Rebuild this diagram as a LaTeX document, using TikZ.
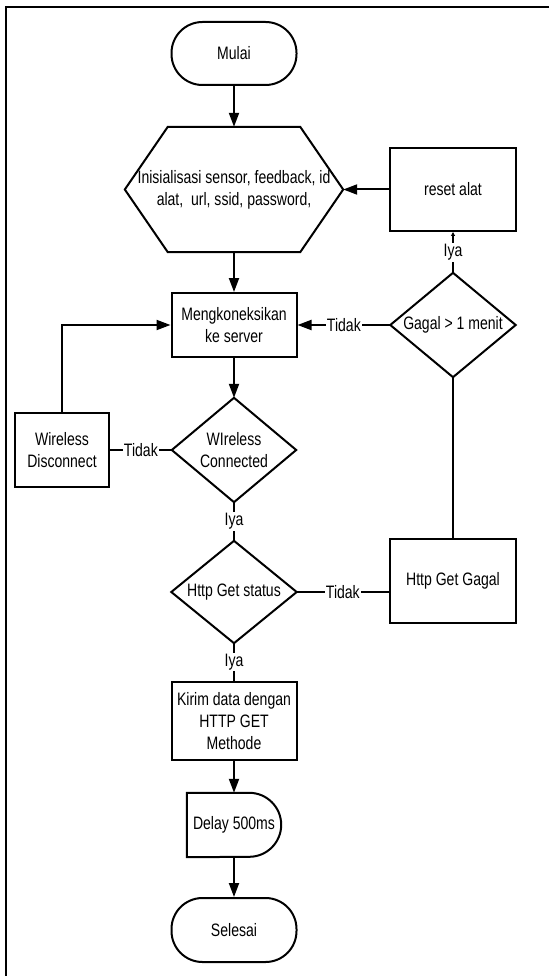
\documentclass[tikz,border=0pt]{standalone}
\usepackage{fontspec}
\setmainfont{Liberation Sans}[FakeStretch=0.78]
\usetikzlibrary{arrows.meta}

\begin{document}
\begin{tikzpicture}[x=1pt,y=-1pt,
  every node/.style={font=\fontsize{18}{22}\selectfont, align=center, inner sep=0pt},
  ln/.style={line width=2pt, line join=miter},
  arr/.style={ln, -{Triangle[length=14pt,width=10pt]}},
  arrsmall/.style={ln, -{Triangle[length=4pt,width=4pt]}},
  box/.style={draw, line width=2pt, rectangle, minimum width=#1},
  term/.style={draw, line width=2pt, rectangle, rounded corners=31pt,
               minimum width=125pt, minimum height=63pt},
  shapeonly/.style={rectangle, minimum width=#1},
  lbl/.style={fill=white, inner sep=1.2pt}
]
\useasboundingbox (0,0) rectangle (549,976);

% outer frame (top and left edges)
\draw[line width=2.6pt] (549,7) -- (6,7) -- (6,976);

% ---------- nodes ----------
\node[term] (start) at (234,53.5) {Mulai};

\node[shapeonly=218pt, minimum height=125pt] (init) at (234,189.5)
  {Inisialisasi sensor, feedback, id\\alat,\ \ url, ssid, password,};
\draw[ln] (init.west) -- ([xshift=43pt]init.north west) -- ([xshift=-43pt]init.north east)
  -- (init.east) -- ([xshift=-43pt]init.south east) -- ([xshift=43pt]init.south west) -- cycle;

\node[box=126pt, minimum height=83pt] (reset) at (453,189.5) {reset alat};

\node[box=125pt, minimum height=64pt] (conn) at (234,325) {Mengkoneksikan\\ke server};

\node[shapeonly=125pt, minimum height=104pt] (gagal) at (453,325) {Gagal > 1 menit};
\draw[ln] (gagal.north) -- (gagal.east) -- (gagal.south) -- (gagal.west) -- cycle;

\node[box=94pt, minimum height=74pt] (wd) at (62,450) {Wireless\\Disconnect};

\node[shapeonly=124pt, minimum height=104pt] (wc) at (234,450) {WIreless\\Connected};
\draw[ln] (wc.north) -- (wc.east) -- (wc.south) -- (wc.west) -- cycle;

\node[shapeonly=125pt, minimum height=102pt] (hgs) at (234,592) {Http Get status};
\draw[ln] (hgs.north) -- (hgs.east) -- (hgs.south) -- (hgs.west) -- cycle;

\node[box=126pt, minimum height=84pt] (hgg) at (453,581) {Http Get Gagal};

\node[box=125pt, minimum height=78pt] (kirim) at (234,721)
  {Kirim data dengan\\HTTP GET\\Methode};

\node[shapeonly=94pt, minimum height=64pt] (delay) at (234,825) {Delay 500ms};
\draw[ln] (delay.north west) -- ([xshift=-32pt]delay.north east)
  arc[start angle=90, end angle=-90, radius=32pt] -- (delay.south west) -- cycle;

\node[term, minimum height=64pt] (stop) at (234,930) {Selesai};

% ---------- connectors ----------
\draw[arr] (start) -- (init);
\draw[arr] (init) -- (conn);
\draw[arr] (reset.west) -- (init.east);
\draw[arrsmall] (gagal.north) -- node[lbl] {Iya} (reset.south);
\draw[arr] (gagal.west) -- node[lbl] {Tidak} (conn.east);
\draw[arr] (conn) -- (wc.north);
\draw[ln] (wc.west) -- node[lbl] {Tidak} (wd.east);
\draw[arr] (wd.north) |- (conn.west);
\draw[ln] (wc.south) -- node[lbl] {Iya} (hgs.north);
\draw[ln] (hgs.east) -- node[lbl] {Tidak} (hgg.west |- hgs.east);
\draw[ln] (hgg.north) -- (gagal.south);
\draw[ln] (hgs.south) -- node[lbl] {Iya} (kirim.north);
\draw[arr] (kirim) -- (delay);
\draw[arr] (delay) -- (stop);
\end{tikzpicture}
\end{document}
